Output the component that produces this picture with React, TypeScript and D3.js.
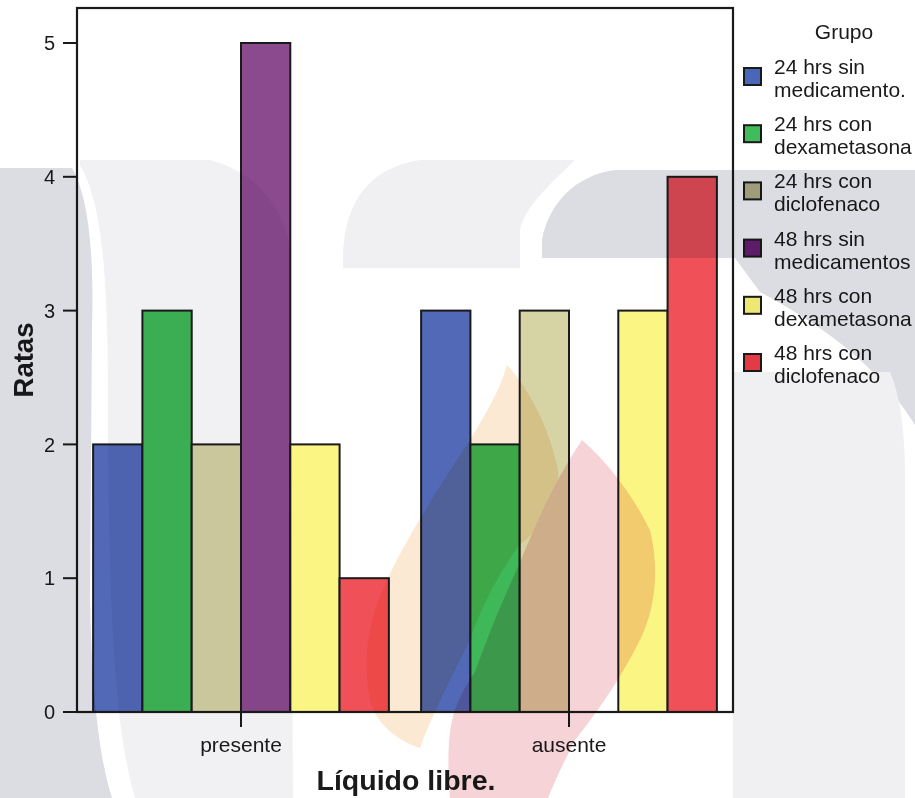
import React from "react";
import * as d3 from "d3";

// Categories on the x axis
const categories = ["presente", "ausente"];
// Groups (legend entries)
const groups = [
  "24 hrs sin medicamento.",
  "24 hrs con dexametasona",
  "24 hrs con diclofenaco",
  "48 hrs sin medicamentos",
  "48 hrs con dexametasona",
  "48 hrs con diclofenaco",
];
// Legend labels split across two lines
const legendLines = [
  ["24 hrs sin", "medicamento."],
  ["24 hrs con", "dexametasona"],
  ["24 hrs con", "diclofenaco"],
  ["48 hrs sin", "medicamentos"],
  ["48 hrs con", "dexametasona"],
  ["48 hrs con", "diclofenaco"],
];
// Counts per group for each category
const presenteValues = [2, 3, 2, 5, 2, 1];
const ausenteValues = [3, 2, 3, 0, 3, 4];
const yTicks = [0, 1, 2, 3, 4, 5];

const barColors = ["#5169b7", "#3eb858", "#d6d3a4", "#8c4a8e", "#fbf684", "#f05058"];
const swatchColors = ["#4a66b8", "#3ebd5a", "#b7b58a", "#6a2074", "#ece872", "#e43a45"];

const W = 915;
const H = 798;
const plot = { left: 77, right: 733, top: 8, bottom: 712 };

export default function App() {
  const x0 = d3.scaleBand<string>().domain(categories).range([plot.left, plot.right]).padding(0);
  const x1 = d3
    .scaleBand<string>()
    .domain(groups)
    .range([0, x0.bandwidth()])
    .paddingInner(0)
    .paddingOuter(0.327);
  const y = d3.scaleLinear().domain([0, 5]).range([plot.bottom, 43]);

  const series = [presenteValues, ausenteValues];
  const font = "'Liberation Sans', Arial, sans-serif";
  const ink = "#1a1a1a";

  return (
    <svg
      width={W}
      height={H}
      style={{ position: "absolute", left: 0, top: 0, display: "block", background: "#fff" }}
      fontFamily={font}
    >
      <rect x={0} y={0} width={W} height={H} fill="#fff" />

      {/* bars */}
      {categories.map((c, ci) => (
        <g key={c} transform={`translate(${x0(c)},0)`}>
          {groups.map((g, gi) => {
            const v = series[ci][gi];
            if (v <= 0) return null;
            return (
              <rect
                key={g}
                x={x1(g)}
                y={y(v)}
                width={x1.bandwidth()}
                height={y(0) - y(v)}
                fill={barColors[gi]}
                stroke={ink}
                strokeWidth={2}
              />
            );
          })}
        </g>
      ))}

      {/* frame */}
      <rect
        x={plot.left}
        y={plot.top}
        width={plot.right - plot.left}
        height={plot.bottom - plot.top}
        fill="none"
        stroke={ink}
        strokeWidth={2.2}
      />

      {/* y axis */}
      {yTicks.map((t) => (
        <g key={t}>
          <line x1={63} x2={plot.left} y1={y(t)} y2={y(t)} stroke={ink} strokeWidth={2} />
          <text x={55} y={y(t)} dy="0.36em" textAnchor="end" fontSize={20} fill={ink}>
            {t}
          </text>
        </g>
      ))}
      <text
        transform={`translate(33,${(plot.top + plot.bottom) / 2}) rotate(-90)`}
        textAnchor="middle"
        fontSize={27.5}
        fontWeight="bold"
        fill={ink}
      >
        Ratas
      </text>

      {/* x axis */}
      {categories.map((c) => {
        const cx = (x0(c) as number) + x0.bandwidth() / 2;
        return (
          <g key={c}>
            <line x1={cx} x2={cx} y1={plot.bottom} y2={727} stroke={ink} strokeWidth={2} />
            <text x={cx} y={752} textAnchor="middle" fontSize={21} fill={ink}>
              {c}
            </text>
          </g>
        );
      })}
      <text x={406} y={790} textAnchor="middle" fontSize={28.5} fontWeight="bold" fill={ink}>
        Líquido libre.
      </text>

      {/* legend */}
      <text x={844} y={39} textAnchor="middle" fontSize={21} fill={ink}>
        Grupo
      </text>
      {groups.map((g, i) => {
        const top = 68 + i * 57.2;
        return (
          <g key={g}>
            <rect x={744} y={top} width={17} height={17} fill={swatchColors[i]} stroke={ink} strokeWidth={2} />
            <text x={774} y={top + 6} fontSize={21} fill={ink}>
              {legendLines[i][0]}
            </text>
            <text x={774} y={top + 29} fontSize={21} fill={ink}>
              {legendLines[i][1]}
            </text>
          </g>
        );
      })}

      {/* faint background logo shapes */}
      <g style={{ mixBlendMode: "multiply" }} pointerEvents="none">
        <path
          d="M80,160 L210,160 C250,170 280,200 290,245 L293,798 L135,798 C118,740 108,640 108,400 C108,260 100,200 80,165 Z"
          fill="#f1f1f4"
        />
        <path d="M0,168 L72,168 C90,200 94,260 92,330 L90,600 C92,700 100,760 112,798 L0,798 Z" fill="#dcdce3" />
        <path
          d="M343,268 L343,255 C345,200 370,168 420,160 L575,160 C555,180 525,205 520,230 L520,268 Z"
          fill="#f0f0f3"
        />
        <path
          d="M542,258 L542,240 C548,205 575,175 615,170 L915,170 L915,425 C890,385 850,340 760,292 L735,258 Z"
          fill="#dcdce3"
        />
        <path d="M733,372 L890,372 C902,400 905,440 905,480 L905,798 L733,798 Z" fill="#f0f0f3" />
        <path
          d="M507,365 C530,390 550,430 558,470 C560,505 540,530 519,545 C495,580 480,610 470,640 C450,680 430,720 420,748 C395,740 375,722 370,700 C362,660 368,620 385,585 C400,550 430,500 470,440 C485,415 500,390 507,365 Z"
          fill="#fce9d4"
        />
        <path
          d="M582,440 C605,460 630,490 650,530 C660,570 655,610 640,640 C620,680 595,715 575,740 C565,760 555,780 548,798 L450,798 C447,760 448,730 455,710 C462,690 470,680 475,672 C490,630 505,595 519,565 C535,525 555,480 582,440 Z"
          fill="#f6d3d6"
        />
      </g>
    </svg>
  );
}
